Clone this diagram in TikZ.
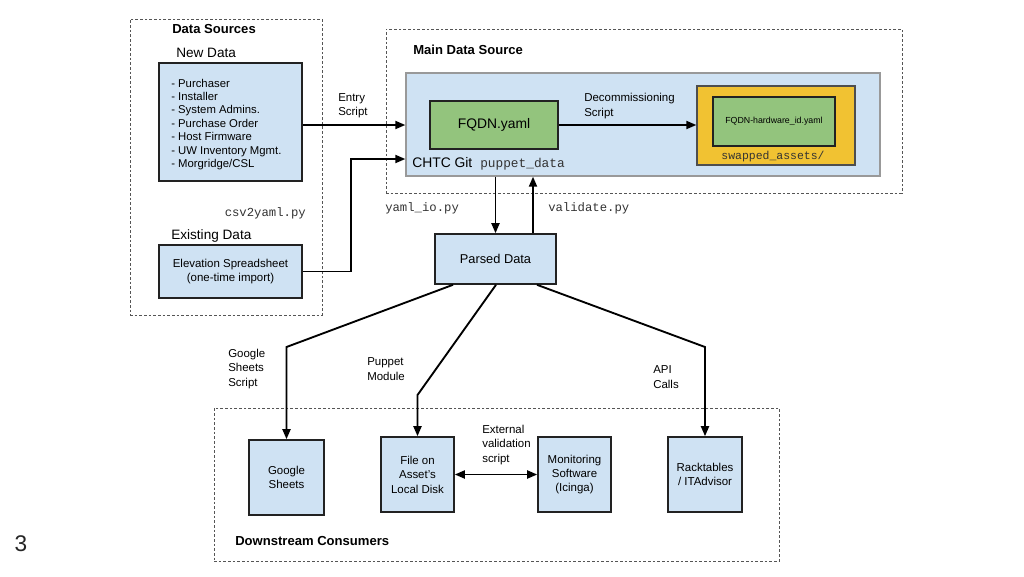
\documentclass[tikz,border=0pt]{standalone}
\usepackage{fontspec}
\setmainfont{Liberation Sans}
\setmonofont{Liberation Mono}
\usetikzlibrary{calc,arrows.meta}
\definecolor{boxblue}{HTML}{CFE2F3}
\definecolor{boxgreen}{HTML}{93C47D}
\definecolor{boxyellow}{HTML}{F1C232}
\definecolor{dashgrey}{HTML}{555555}
\definecolor{edge}{HTML}{222222}
\definecolor{monogrey}{HTML}{333333}
\tikzset{
  group/.style={draw=dashgrey, dash pattern=on 2pt off 1.5pt, line width=0.6pt, inner sep=0pt},
  bluebox/.style={draw=edge, fill=boxblue, line width=1.2pt, inner sep=0pt, align=center, font=\fontsize{8.6}{10.8}\selectfont},
  gitbox/.style={draw=gray!80, fill=boxblue, line width=1pt, inner sep=0pt},
  greenbox/.style={draw=edge, fill=boxgreen, line width=1.1pt, inner sep=0pt, align=center},
  yellowbox/.style={draw=edge!80, fill=boxyellow, line width=1pt, inner sep=0pt},
  title/.style={font=\bfseries\fontsize{9.8}{11}\selectfont, anchor=west, inner sep=0pt},
  subtitle/.style={font=\fontsize{10.2}{12}\selectfont, anchor=west, inner sep=0pt},
  lbl/.style={font=\fontsize{8.6}{10.8}\selectfont, align=left, anchor=west, inner sep=0pt},
  mono/.style={font=\ttfamily\fontsize{9.2}{11}\selectfont, text=monogrey, inner sep=0pt},
  arr/.style={-{Triangle[length=7.5pt,width=6pt]}, line width=1.4pt, draw=black},
  darr/.style={{Triangle[length=7.5pt,width=6pt]}-{Triangle[length=7.5pt,width=6pt]}, line width=1.4pt, draw=black},
}
\begin{document}
\begin{tikzpicture}[x=0.75pt,y=-0.75pt]
\useasboundingbox (0,0) rectangle (1024,576);
% groups
\node[group, minimum width=192*0.75pt, minimum height=296*0.75pt] (ds) at (226,167) {};
\node[group, minimum width=516*0.75pt, minimum height=164*0.75pt] (mainsrc) at (644,111) {};
\node[group, minimum width=565*0.75pt, minimum height=153*0.75pt] (down) at (496.5,484.5) {};
% titles
\node[title] (tds) at (172,29) {Data Sources};
\node[subtitle] (tnew) at (176,53) {New Data};
\node[subtitle] (texist) at (171,236) {Existing Data};
\node[title] (tmain) at (413,50) {Main Data Source};
\node[title] (tdown) at (235,541) {Downstream Consumers};
% data source boxes
\node[bluebox, minimum width=143*0.75pt, minimum height=118*0.75pt] (newd) at (230.5,122) {};
\node[lbl, font=\fontsize{8.5}{10.1}\selectfont] (newlist) at (171,124.5) {- Purchaser\\- Installer\\- System Admins.\\- Purchase Order\\- Host Firmware\\- UW Inventory Mgmt.\\- Morgridge/CSL};
\node[bluebox, minimum width=143*0.75pt, minimum height=53*0.75pt] (exist) at (230.5,271.5) {Elevation Spreadsheet\\(one-time import)};
\node[mono, anchor=east] (csv) at (306,213) {csv2yaml.py};
% main source
\node[gitbox, minimum width=474*0.75pt, minimum height=103*0.75pt] (git) at (643,124.5) {};
\node[greenbox, minimum width=128*0.75pt, minimum height=48*0.75pt, font=\fontsize{10.4}{12}\selectfont] (fqdn) at (494,125) {FQDN.yaml};
\node[yellowbox, minimum width=158*0.75pt, minimum height=79*0.75pt] (yel) at (776,125.5) {};
\node[greenbox, minimum width=122*0.75pt, minimum height=49*0.75pt, font=\fontsize{6.6}{8}\selectfont] (hw) at (774,121.5) {FQDN-hardware\_id.yaml};
\node[mono, font=\ttfamily\fontsize{8.6}{10}\selectfont] (swap) at (773,157) {swapped\_assets/};
\node[subtitle, font=\fontsize{10.4}{12}\selectfont] (chtc) at (412,163) {CHTC Git};
\node[mono, anchor=west, font=\ttfamily\fontsize{9.6}{11}\selectfont] (pdata) at (480,164) {puppet\_data};
\node[lbl] (decom) at (584,106) {Decommissioning\\Script};
\node[lbl] (entry) at (338,106) {Entry\\Script};
% parsed
\node[bluebox, minimum width=121*0.75pt, minimum height=50*0.75pt, font=\fontsize{9.6}{11}\selectfont] (parsed) at (495.5,259) {Parsed Data};
\node[mono, anchor=west] (yio) at (385,208) {yaml\_io.py};
\node[mono, anchor=west] (val) at (548,208) {validate.py};
% consumers
\node[bluebox, minimum width=75*0.75pt, minimum height=75*0.75pt] (gs) at (286.5,477.5) {Google\\Sheets};
\node[bluebox, minimum width=73*0.75pt, minimum height=75*0.75pt] (file) at (417.5,474.5) {File on\\Asset's\\Local Disk};
\node[bluebox, minimum width=73*0.75pt, minimum height=75*0.75pt] (mon) at (574.5,474.5) {Monitoring\\Software\\(Icinga)};
\node[bluebox, minimum width=74*0.75pt, minimum height=75*0.75pt] (rack) at (705,474.5) {Racktables\\/ ITAdvisor};
\node[lbl] (gsl) at (228,369) {Google\\Sheets\\Script};
\node[lbl] (ppl) at (367,369) {Puppet\\Module};
\node[lbl] (apil) at (653,377) {API\\Calls};
\node[lbl] (extl) at (482,445) {External\\validation\\script};
% page number
\node[font=\fontsize{17}{19}\selectfont, text=black!85, inner sep=0pt] (pg) at (21,544) {3};
% connectors
\draw[arr] (newd.east |- fqdn) -- (git.west |- fqdn);
\draw[arr] (exist.east) -- ++(48,0) |- ($(git.west)+(0,34.5)$);
\draw[arr] (fqdn.east) -- (fqdn.east -| yel.west);
\draw[arr] (parsed.north |- git.south) -- (parsed.north);
\draw[arr] ($(parsed.north)+(37.5,0)$) -- ($(parsed.north |- git.south)+(37.5,0)$);
\coordinate (gbend) at (286.5,347);
\coordinate (pbend) at (417.5,395);
\coordinate (abend) at (705,347);
\draw[arr] ($(parsed.south)+(-42.5,0)$) -- (gbend) -- (gs.north);
\draw[arr] ($(parsed.south)+(0.5,0)$) -- (pbend) -- (file.north);
\draw[arr] ($(parsed.south)+(41.5,0)$) -- (abend) -- (rack.north);
\draw[darr] (file.east) -- (mon.west);
\end{tikzpicture}
\end{document}
